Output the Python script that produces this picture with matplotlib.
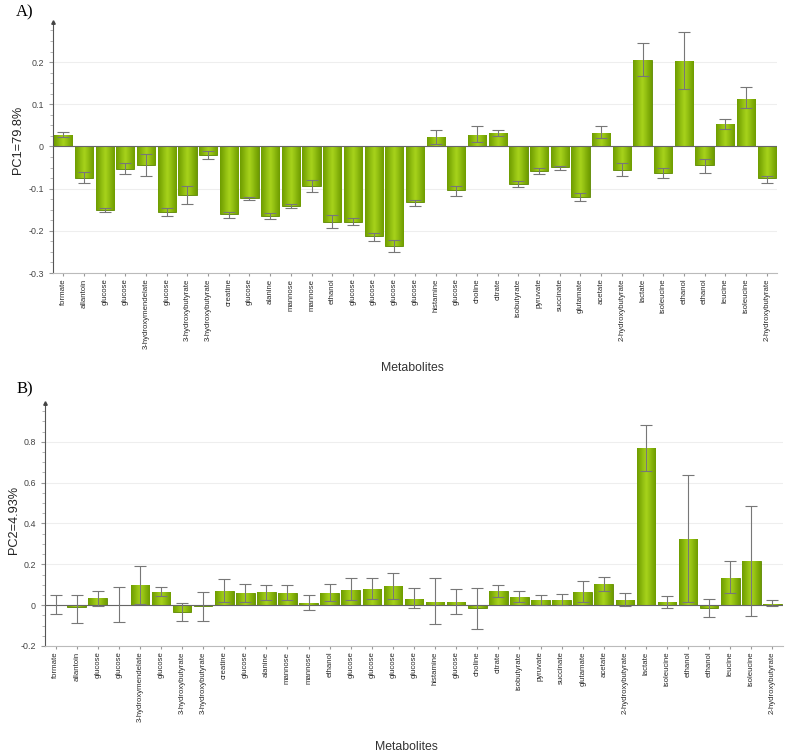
import numpy as np
import matplotlib
matplotlib.use('Agg')
import matplotlib.pyplot as plt
from matplotlib.colors import LinearSegmentedColormap
from matplotlib.ticker import FuncFormatter, MultipleLocator

metabolites = ['formate', 'allantoin', 'glucose', 'glucose', '3-hydroxymendelate', 'glucose',
               '3-hydroxybutyrate', '3-hydroxybutyrate', 'creatine', 'glucose', 'alanine',
               'mannose', 'mannose', 'ethanol', 'glucose', 'glucose', 'glucose', 'glucose',
               'histamine', 'glucose', 'choline', 'citrate', 'isobutyrate', 'pyruvate',
               'succinate', 'glutamate', 'acetate', '2-hydroxybutyrate', 'lactate',
               'isoleucine', 'ethanol', 'ethanol', 'leucine', 'isoleucine', '2-hydroxybutyrate']

# PC1 loadings with lower / upper ends of the error bars
pc1 = [0.028, -0.075, -0.150, -0.053, -0.045, -0.155, -0.114, -0.020, -0.160, -0.122, -0.164,
       -0.140, -0.093, -0.178, -0.178, -0.213, -0.236, -0.132, 0.022, -0.104, 0.028, 0.031,
       -0.088, -0.059, -0.049, -0.120, 0.033, -0.055, 0.205, -0.063, 0.202, -0.045, 0.053,
       0.113, -0.076]
pc1_lo = [0.022, -0.087, -0.155, -0.065, -0.071, -0.166, -0.137, -0.029, -0.169, -0.126, -0.172,
          -0.146, -0.108, -0.194, -0.187, -0.224, -0.250, -0.140, 0.005, -0.117, 0.011, 0.024,
          -0.097, -0.065, -0.056, -0.129, 0.021, -0.071, 0.167, -0.076, 0.135, -0.063, 0.042,
          0.090, -0.086]
pc1_hi = [0.034, -0.061, -0.147, -0.040, -0.018, -0.147, -0.094, -0.011, -0.156, -0.121, -0.158,
          -0.136, -0.080, -0.163, -0.170, -0.206, -0.222, -0.127, 0.040, -0.094, 0.048, 0.038,
          -0.081, -0.051, -0.047, -0.111, 0.048, -0.039, 0.244, -0.050, 0.271, -0.029, 0.066,
          0.140, -0.069]

# PC2 loadings
pc2 = [0.000, -0.008, 0.034, 0.000, 0.098, 0.066, -0.034, -0.003, 0.071, 0.060, 0.063, 0.060,
       0.011, 0.058, 0.074, 0.081, 0.094, 0.032, 0.016, 0.016, -0.013, 0.069, 0.042, 0.024,
       0.026, 0.065, 0.103, 0.027, 0.769, 0.013, 0.326, -0.013, 0.135, 0.216, 0.008]
pc2_lo = [-0.045, -0.087, -0.003, -0.082, 0.005, 0.045, -0.079, -0.077, 0.016, 0.016, 0.024,
          0.024, -0.024, 0.018, 0.027, 0.029, 0.029, -0.013, -0.094, -0.045, -0.116, 0.040,
          0.013, 0.000, 0.000, 0.016, 0.068, -0.003, 0.655, -0.013, 0.016, -0.056, 0.058,
          -0.052, -0.006]
pc2_hi = [0.048, 0.050, 0.069, 0.089, 0.194, 0.089, 0.010, 0.066, 0.129, 0.106, 0.100, 0.097,
          0.052, 0.102, 0.134, 0.134, 0.155, 0.082, 0.132, 0.079, 0.085, 0.100, 0.069, 0.048,
          0.053, 0.118, 0.140, 0.061, 0.884, 0.045, 0.635, 0.031, 0.218, 0.485, 0.024]

green = LinearSegmentedColormap.from_list('g', ['#6e9c00', '#a8d41c', '#6e9c00'])
grad = np.linspace(0, 1, 64).reshape(1, -1)
SANS = 'Liberation Sans'


def fmt(v, pos):
    if abs(v) < 1e-9:
        return '0'
    return ('%.1f' % v)


def draw_panel(ax, vals, lo, hi, ylim, ylabel, letter):
    x = np.arange(len(vals))
    bars = ax.bar(x, vals, width=0.88, color='#8cbc0a', edgecolor='#5a8500', linewidth=0.6, zorder=3)
    for b in bars:
        x0, y0 = b.get_x(), b.get_y()
        w, h = b.get_width(), b.get_height()
        if h == 0:
            continue
        im = ax.imshow(grad, cmap=green, aspect='auto', zorder=3.5,
                       extent=[x0, x0 + w, y0, y0 + h], interpolation='bicubic')
        im.set_clip_path(b)
    vals = np.array(vals)
    yerr = [vals - np.array(lo), np.array(hi) - vals]
    ax.errorbar(x, vals, yerr=yerr, fmt='none', ecolor='#777777', elinewidth=0.8,
                capsize=4.5, capthick=0.8, zorder=5)
    ax.axhline(0, color='#666666', lw=0.8, zorder=4)
    ax.set_xlim(-0.5, len(vals) - 0.5)
    ax.set_ylim(*ylim)
    ax.set_xticks(x)
    ax.set_xticklabels(metabolites, rotation=90, fontsize=5.6, color='#2a2a2a', family=SANS)
    ax.tick_params(axis='x', length=2, color='#999999', pad=2)
    ax.tick_params(axis='y', labelsize=6.4, labelcolor='#444444', length=3, color='#999999')
    for t in ax.get_yticklabels():
        t.set_family(SANS)
    ax.yaxis.set_major_formatter(FuncFormatter(fmt))
    ax.grid(axis='y', color='#eeeeee', lw=0.8, zorder=0)
    for s in ['top', 'right']:
        ax.spines[s].set_visible(False)
    ax.spines['left'].set_color('#555555')
    ax.spines['bottom'].set_color('#bbbbbb')
    ax.set_ylabel(ylabel, fontsize=9.2, family=SANS, color='#222222')
    ax.set_xlabel('Metabolites', fontsize=8.8, family=SANS, color='#333333')
    ax.plot(0, 1, '^', color='#444444', ms=2.5, transform=ax.transAxes, clip_on=False, zorder=6)
    return ax.text(0, 1, letter, transform=ax.transAxes, fontsize=12, family='Liberation Serif',
                   ha='left', va='center')


fig = plt.figure(figsize=(7.87, 7.55), dpi=100)
ax1 = fig.add_axes([0.0673, 0.6384, 0.9200, 0.3325])
ax2 = fig.add_axes([0.0572, 0.1444, 0.9377, 0.3218])

lab1 = draw_panel(ax1, pc1, pc1_lo, pc1_hi, (-0.3, 0.295), 'PC1=79.8%', 'A)')
ax1.yaxis.set_major_locator(MultipleLocator(0.1))
ax1.yaxis.set_minor_locator(MultipleLocator(0.025))
ax1.xaxis.set_label_coords(0.496, -0.378)
ax1.yaxis.set_label_coords(-0.048, 0.53)
lab1.set_position((-0.051, 1.04))

lab2 = draw_panel(ax2, pc2, pc2_lo, pc2_hi, (-0.2, 0.99), 'PC2=4.93%', 'B)')
ax2.yaxis.set_major_locator(MultipleLocator(0.2))
ax2.yaxis.set_minor_locator(MultipleLocator(0.05))
ax2.xaxis.set_label_coords(0.49, -0.416)
ax2.yaxis.set_label_coords(-0.042, 0.52)
lab2.set_position((-0.039, 1.055))

for ax in (ax1, ax2):
    ax.tick_params(axis='y', which='minor', length=2, color='#aaaaaa')
    ax.xaxis.label.set_va('center')
    ax.yaxis.label.set_va('center')

fig.savefig('out.png', dpi=100)
